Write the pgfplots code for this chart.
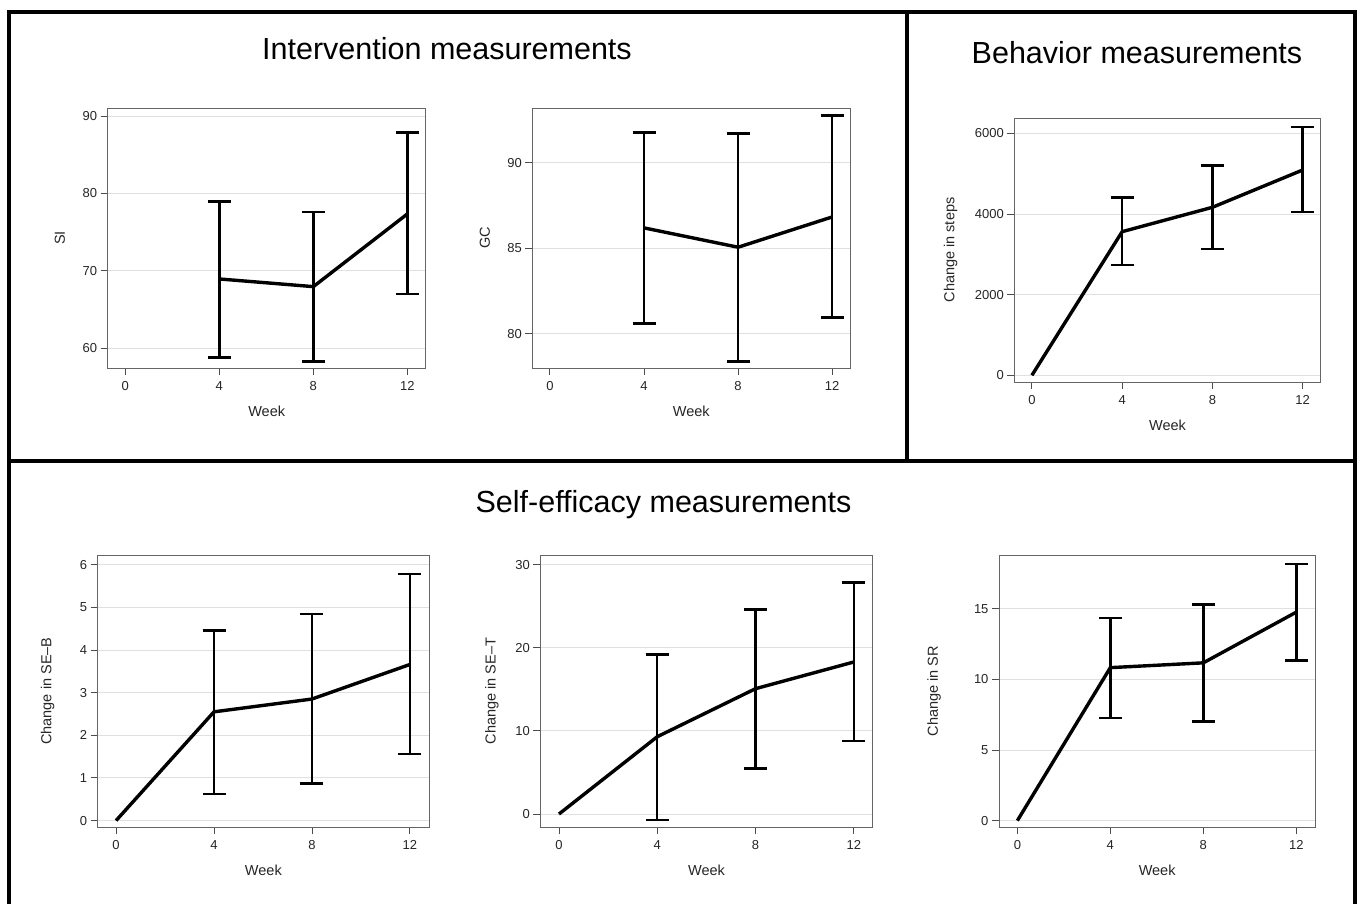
\documentclass[border=0pt]{standalone}
\usepackage{fontspec}
\setmainfont{Liberation Sans}
\usepackage{pgfplots}
\pgfplotsset{compat=1.18}
\pgfplotsset{
  panel/.style={
    scale only axis, anchor=south west,
    axis line style={draw=black!60, line width=0.9pt},
    every tick/.style={draw=black!70, line width=0.9pt},
    tick align=outside, major tick length=7pt,
    xtick pos=left, ytick pos=left,
    xtick={0,4,8,12},
    ymajorgrids, grid style={draw=black!12, line width=0.9pt},
    ticklabel style={font=\fontsize{13}{15}\selectfont, text=black!85},
    xticklabel style={yshift=-3pt},
    label style={font=\fontsize{14.5}{16}\selectfont, text=black!85},
    /pgf/number format/assume math mode=true,
    /pgf/number format/1000 sep={},
    xlabel={Week},
    xlabel style={at={(axis description cs:0.5,0)}, anchor=center, yshift=-43pt},
  },
  meanline/.style={black, line width=3.4pt, mark=none, line join=round},
  ebars/.style={draw=none, mark=none, forget plot,
    error bars/.cd, y dir=both, y explicit,
    error bar style={draw=black, line width=2.5pt},
    error mark options={draw=black, rotate=90, mark size=11.5pt, line width=2.6pt}},
}
\begin{document}
\begin{tikzpicture}[x=1pt,y=1pt]
\useasboundingbox (0,0) rectangle (1361,904);
\fill[white] (0,0) rectangle (1361,904);

\coordinate (A1) at (107.7,535.7);
\coordinate (A2) at (532.3,536);
\coordinate (A3) at (1014.3,522);
\coordinate (A4) at (97.7,77);
\coordinate (A5) at (540.3,77);
\coordinate (A6) at (999,77);

% frames
\draw[line width=4pt, line join=miter] (9,0) -- (9,891.5) -- (1355,891.5) -- (1355,0);
\draw[line width=4pt] (7,442.5) -- (1357,442.5);
\draw[line width=4pt] (907,891.5) -- (907,442.5);

% titles
\node[anchor=base, font=\fontsize{30.5}{34}\selectfont] at (447,844.7) {Intervention measurements};
\node[anchor=base, font=\fontsize{30.5}{34}\selectfont] at (1137,840.7) {Behavior measurements};
\node[anchor=base, font=\fontsize{30.5}{34}\selectfont] at (663.5,391) {Self-efficacy measurements};

% Panel 1: SI
\begin{axis}[panel, at={(A1)}, width=318pt, height=260.3pt,
  xmin=-0.75, xmax=12.78, ymin=57.4, ymax=91.03, ytick={60,70,80,90},
  ylabel={SI}, ylabel style={at={(axis description cs:-0.150,0.5)}, anchor=center}]
\addplot[meanline] coordinates {(4,68.94) (8,67.95) (12,77.34)};
\addplot[ebars] coordinates {(4,68.94) += (0,10.03) -= (0,10.14)
  (8,67.95) += (0,9.65) -= (0,9.65) (12,77.34) += (0,10.56) -= (0,10.34)};
\end{axis}

% Panel 2: GC
\begin{axis}[panel, at={(A2)}, width=318pt, height=260pt,
  xmin=-0.75, xmax=12.77, ymin=78.0, ymax=93.2, ytick={80,85,90},
  ylabel={GC}, ylabel style={at={(axis description cs:-0.149,0.5)}, anchor=center}]
\addplot[meanline] coordinates {(4,86.19) (8,85.06) (12,86.83)};
\addplot[ebars] coordinates {(4,86.19) += (0,5.56) -= (0,5.59)
  (8,85.06) += (0,6.65) -= (0,6.68) (12,86.83) += (0,5.92) -= (0,5.89)};
\end{axis}

% Panel 3: steps
\begin{axis}[panel, at={(A3)}, width=306.4pt, height=264pt,
  xmin=-0.78, xmax=12.8, ymin=-166, ymax=6380, ytick={0,2000,4000,6000},
  scaled y ticks=false,
  ylabel={Change in steps}, ylabel style={at={(axis description cs:-0.2076,0.5)}, anchor=center}]
\addplot[meanline] coordinates {(0,0) (4,3561) (8,4165) (12,5090)};
\addplot[ebars] coordinates {(4,3561) += (0,852) -= (0,826)
  (8,4165) += (0,1032) -= (0,1034) (12,5090) += (0,1067) -= (0,1041)};
\end{axis}

% Panel 4: SE-B
\begin{axis}[panel, at={(A4)}, width=331.3pt, height=271.7pt,
  xmin=-0.75, xmax=12.78, ymin=-0.15, ymax=6.22, ytick={0,1,2,3,4,5,6},
  ylabel={Change in SE\textendash B}, ylabel style={at={(axis description cs:-0.151,0.5)}, anchor=center}]
\addplot[meanline] coordinates {(0,0) (4,2.55) (8,2.85) (12,3.66)};
\addplot[ebars] coordinates {(4,2.55) += (0,1.91) -= (0,1.925)
  (8,2.85) += (0,1.99) -= (0,1.975) (12,3.66) += (0,2.12) -= (0,2.10)};
\end{axis}

% Panel 5: SE-T
\begin{axis}[panel, at={(A5)}, width=332.4pt, height=271.7pt,
  xmin=-0.76, xmax=12.77, ymin=-1.56, ymax=31.13, ytick={0,10,20,30},
  ylabel={Change in SE\textendash T}, ylabel style={at={(axis description cs:-0.146,0.5)}, anchor=center}]
\addplot[meanline] coordinates {(0,0) (4,9.3) (8,15.08) (12,18.29)};
\addplot[ebars] coordinates {(4,9.3) += (0,9.87) -= (0,10.02)
  (8,15.08) += (0,9.55) -= (0,9.58) (12,18.29) += (0,9.54) -= (0,9.51)};
\end{axis}

% Panel 6: SR
\begin{axis}[panel, at={(A6)}, width=316.3pt, height=271.7pt,
  xmin=-0.79, xmax=12.82, ymin=-0.45, ymax=18.8, ytick={0,5,10,15},
  ylabel={Change in SR}, ylabel style={at={(axis description cs:-0.2055,0.5)}, anchor=center}]
\addplot[meanline] coordinates {(0,0) (4,10.84) (8,11.18) (12,14.77)};
\addplot[ebars] coordinates {(4,10.84) += (0,3.53) -= (0,3.58)
  (8,11.18) += (0,4.13) -= (0,4.14) (12,14.77) += (0,3.42) -= (0,3.43)};
\end{axis}
\end{tikzpicture}
\end{document}
